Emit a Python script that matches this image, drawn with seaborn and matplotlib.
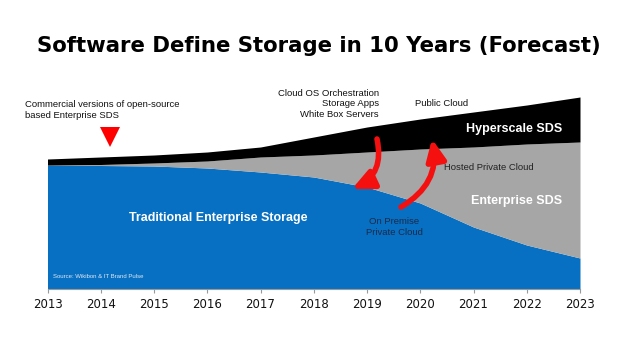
import numpy as np
import matplotlib
matplotlib.use("Agg")
import matplotlib.pyplot as plt
import seaborn as sns

# relative storage volume (arbitrary units)
years = [2013, 2014, 2015, 2016, 2017, 2018, 2019, 2020, 2021, 2022, 2023]
traditional = [124, 123.5, 123, 121, 117, 112, 102, 86, 62, 44, 31]
enterprise_sds = [0, 1, 3, 7, 15, 22, 35, 54, 80, 101, 116]
hyperscale_sds = [6, 7.5, 8, 9, 10, 18, 25, 30, 35, 39, 45]

layer_colors = ["#0870c2", "#a6a6a6", "#000000"]

sns.set_theme(style="white")
plt.rcParams["font.family"] = ["DejaVu Sans"]

fig = plt.figure(figsize=(6.38, 3.59), dpi=100)
ax = fig.add_axes([47.5 / 638, 70 / 359, 532.5 / 638, 199 / 359])

ax.stackplot(years, traditional, enterprise_sds, hyperscale_sds,
             colors=layer_colors, linewidth=0)

ax.set_xlim(2013, 2023)
ax.set_ylim(0, 199)
ax.set_xticks(years)
ax.set_xticklabels([str(y) for y in years], fontsize=8.5, color="#111111")
ax.set_yticks([])
ax.tick_params(axis="x", direction="out", length=3, width=0.8,
               color="#999999", pad=3.5, bottom=True)
for side in ["left", "right", "top"]:
    ax.spines[side].set_visible(False)
ax.spines["bottom"].set_color("#999999")
ax.spines["bottom"].set_linewidth(0.8)

fig.text(0.5, 1 - 46 / 359, "Software Define Storage in 10 Years (Forecast)",
         ha="center", va="center", fontsize=15.3, fontweight="bold",
         color="black")

arial = ["Liberation Sans", "DejaVu Sans"]

def px(x, y):
    # figure pixel -> data coords helper for label placement
    return 2013 + (x - 47.5) / 53.25, 289 - y

ax.text(*px(25, 110), "Commercial versions of open-source\nbased Enterprise SDS",
        ha="left", va="center", fontsize=6.8, family=arial, color="#111111",
        linespacing=1.25, clip_on=False)
ax.plot(*px(110, 137), marker="v", markersize=14, color="#ff0000",
        markeredgewidth=0, clip_on=False)
ax.text(*px(379, 104), "Cloud OS Orchestration\nStorage Apps\nWhite Box Servers",
        ha="right", va="center", fontsize=6.8, family=arial, color="#111111",
        linespacing=1.25, clip_on=False)
ax.text(*px(415, 103), "Public Cloud", ha="left", va="center", fontsize=6.8,
        family=arial, color="#111111", clip_on=False)
ax.text(*px(562, 129), "Hyperscale SDS", ha="right", va="center", fontsize=9,
        fontweight="bold", family=arial, color="white")
ax.text(*px(444, 167), "Hosted Private Cloud", ha="left", va="center",
        fontsize=6.8, family=arial, color="#222222")
ax.text(*px(562, 201), "Enterprise SDS", ha="right", va="center", fontsize=9,
        fontweight="bold", family=arial, color="white")
ax.text(*px(394, 227), "On Premise\nPrivate Cloud", ha="center", va="center",
        fontsize=6.8, family=arial, color="#1a2a4a", linespacing=1.25)
ax.text(*px(218, 218), "Traditional Enterprise Storage", ha="center",
        va="center", fontsize=9, fontweight="bold", family=arial, color="white")
ax.text(*px(53, 276), "Source: Wikibon & IT Brand Pulse", ha="left",
        va="center", fontsize=4.3, family=arial, color="#dde8f5")

# red curved arrows
arrow_style = "-|>,head_length=0.9,head_width=0.42"
ax.annotate("", xy=px(352, 189), xytext=px(377, 139),
            arrowprops=dict(arrowstyle=arrow_style,
                            color="#f51010", lw=4, mutation_scale=14,
                            connectionstyle="arc3,rad=-0.4",
                            shrinkA=0, shrinkB=0))
ax.annotate("", xy=px(432, 139), xytext=px(401, 207),
            arrowprops=dict(arrowstyle=arrow_style,
                            color="#f51010", lw=4, mutation_scale=14,
                            connectionstyle="arc3,rad=0.35",
                            shrinkA=0, shrinkB=0))

fig.savefig("out.png", dpi=100)
